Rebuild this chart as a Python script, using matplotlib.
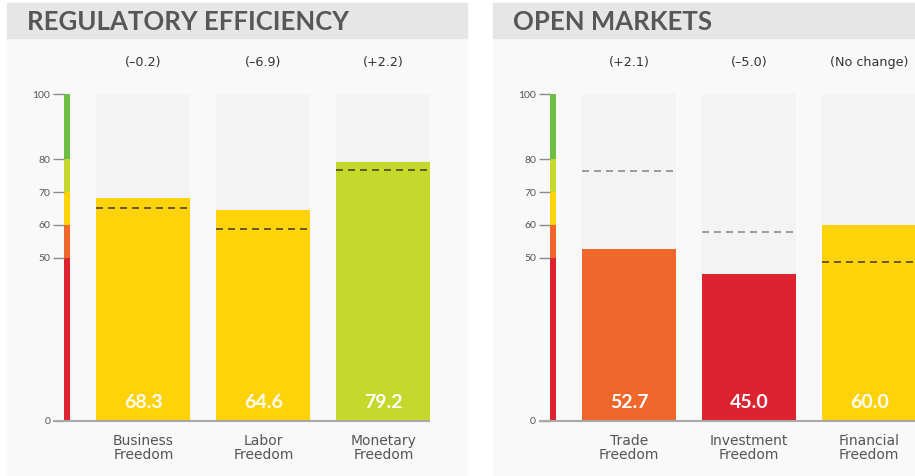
import numpy as np
import matplotlib
matplotlib.use("Agg")
import matplotlib.pyplot as plt
from matplotlib.patches import Rectangle

plt.rcParams['font.family'] = ['Lato', 'DejaVu Sans']

# data
panel_titles = ['REGULATORY EFFICIENCY', 'OPEN MARKETS']
categories = [['Business\nFreedom', 'Labor\nFreedom', 'Monetary\nFreedom'],
              ['Trade\nFreedom', 'Investment\nFreedom', 'Financial\nFreedom']]
scores = [[68.3, 64.6, 79.2], [52.7, 45.0, 60.0]]
averages = [[65.1, 58.7, 76.8], [76.3, 57.8, 48.6]]
changes = [['(\u20130.2)', '(\u20136.9)', '(+2.2)'],
           ['(+2.1)', '(\u20135.0)', '(No change)']]
band_edges = [0, 50, 60, 70, 80, 100]
band_colors = ['#dc2430', '#f0672c', '#ffd20a', '#c5d92d', '#6cbf44']
yticks = [0, 50, 60, 70, 80, 100]

W, H = 915, 476
fig = plt.figure(figsize=(W / 100, H / 100), dpi=100)


def fx(px):
    return px / W


def fy(py):
    return 1 - py / H


def band_color(v):
    i = np.searchsorted(band_edges, v, side='right') - 1
    return band_colors[min(max(i, 0), len(band_colors) - 1)]


offsets = [0, 485.7]
panel_w = 460

for p in range(2):
    dx = offsets[p]
    # panel background + header band
    fig.patches.append(Rectangle((fx(7 + dx), 0), fx(panel_w), fy(38),
                                 transform=fig.transFigure, color='#f9f9f9', zorder=-5))
    fig.patches.append(Rectangle((fx(7 + dx), fy(38)), fx(panel_w), fy(3) - fy(38),
                                 transform=fig.transFigure, color='#e6e6e6', zorder=-5))
    fig.text(fx(27 + dx), fy(22), panel_titles[p], fontsize=18.5, fontweight='bold',
             color='#575757', va='center', ha='left')

    ax = fig.add_axes([fx(64 + dx), fy(421), fx(403), fy(94) - fy(421)])
    ax.set_zorder(2)
    ax.set_facecolor('none')
    x0 = -79.5 / 120
    ax.set_xlim(x0, x0 + 403 / 120)
    ax.set_ylim(0, 100)
    for s in ax.spines.values():
        s.set_visible(False)
    ax.set_xticks([])
    ax.set_yticks(yticks)
    ax.tick_params(axis='y', direction='out', length=7.9, width=1, color='#8a8a8a',
                   labelsize=7.5, labelcolor='#555555', pad=2)

    # colour scale strip
    sw = 6 / 120
    for lo, hi, c in zip(band_edges[:-1], band_edges[1:], band_colors):
        ax.bar(x0 + sw / 2, hi - lo, bottom=lo, width=sw, color=c, linewidth=0)

    xs = np.arange(len(scores[p]))
    bw = 94 / 120
    ax.bar(xs, [100] * len(xs), width=bw, color='#f3f3f3', linewidth=0, zorder=1)
    ax.bar(xs, scores[p], width=bw, color=[band_color(v) for v in scores[p]],
           linewidth=0, zorder=2)
    for x, v, a, ch, cat in zip(xs, scores[p], averages[p], changes[p], categories[p]):
        dc = '#4d4526' if a < v else '#8c8c8c'
        ax.hlines(a, x - bw / 2, x + bw / 2, colors=dc, linewidth=1.2,
                  linestyles=(0, (4.2, 3)), zorder=3)
        ax.text(x, 5.8, f'{v:.1f}', ha='center', va='center', color='white',
                fontsize=14, fontweight='bold', zorder=4)
        ax.text(x, 109.5, ch, ha='center', va='center', color='#333333', fontsize=9.2,
                family='DejaVu Sans', clip_on=False)
        ax.text(x, -4.0, cat, ha='center', va='top', color='#555555', fontsize=10,
                family='DejaVu Sans', linespacing=0.95, clip_on=False)

    # baseline
    ax.plot([x0 - 11 / 120, xs[-1] + bw / 2], [0, 0], color='#a8a8a8', linewidth=1.5,
            clip_on=False, zorder=5, solid_capstyle='butt')

fig.savefig('out.png', dpi=100)
